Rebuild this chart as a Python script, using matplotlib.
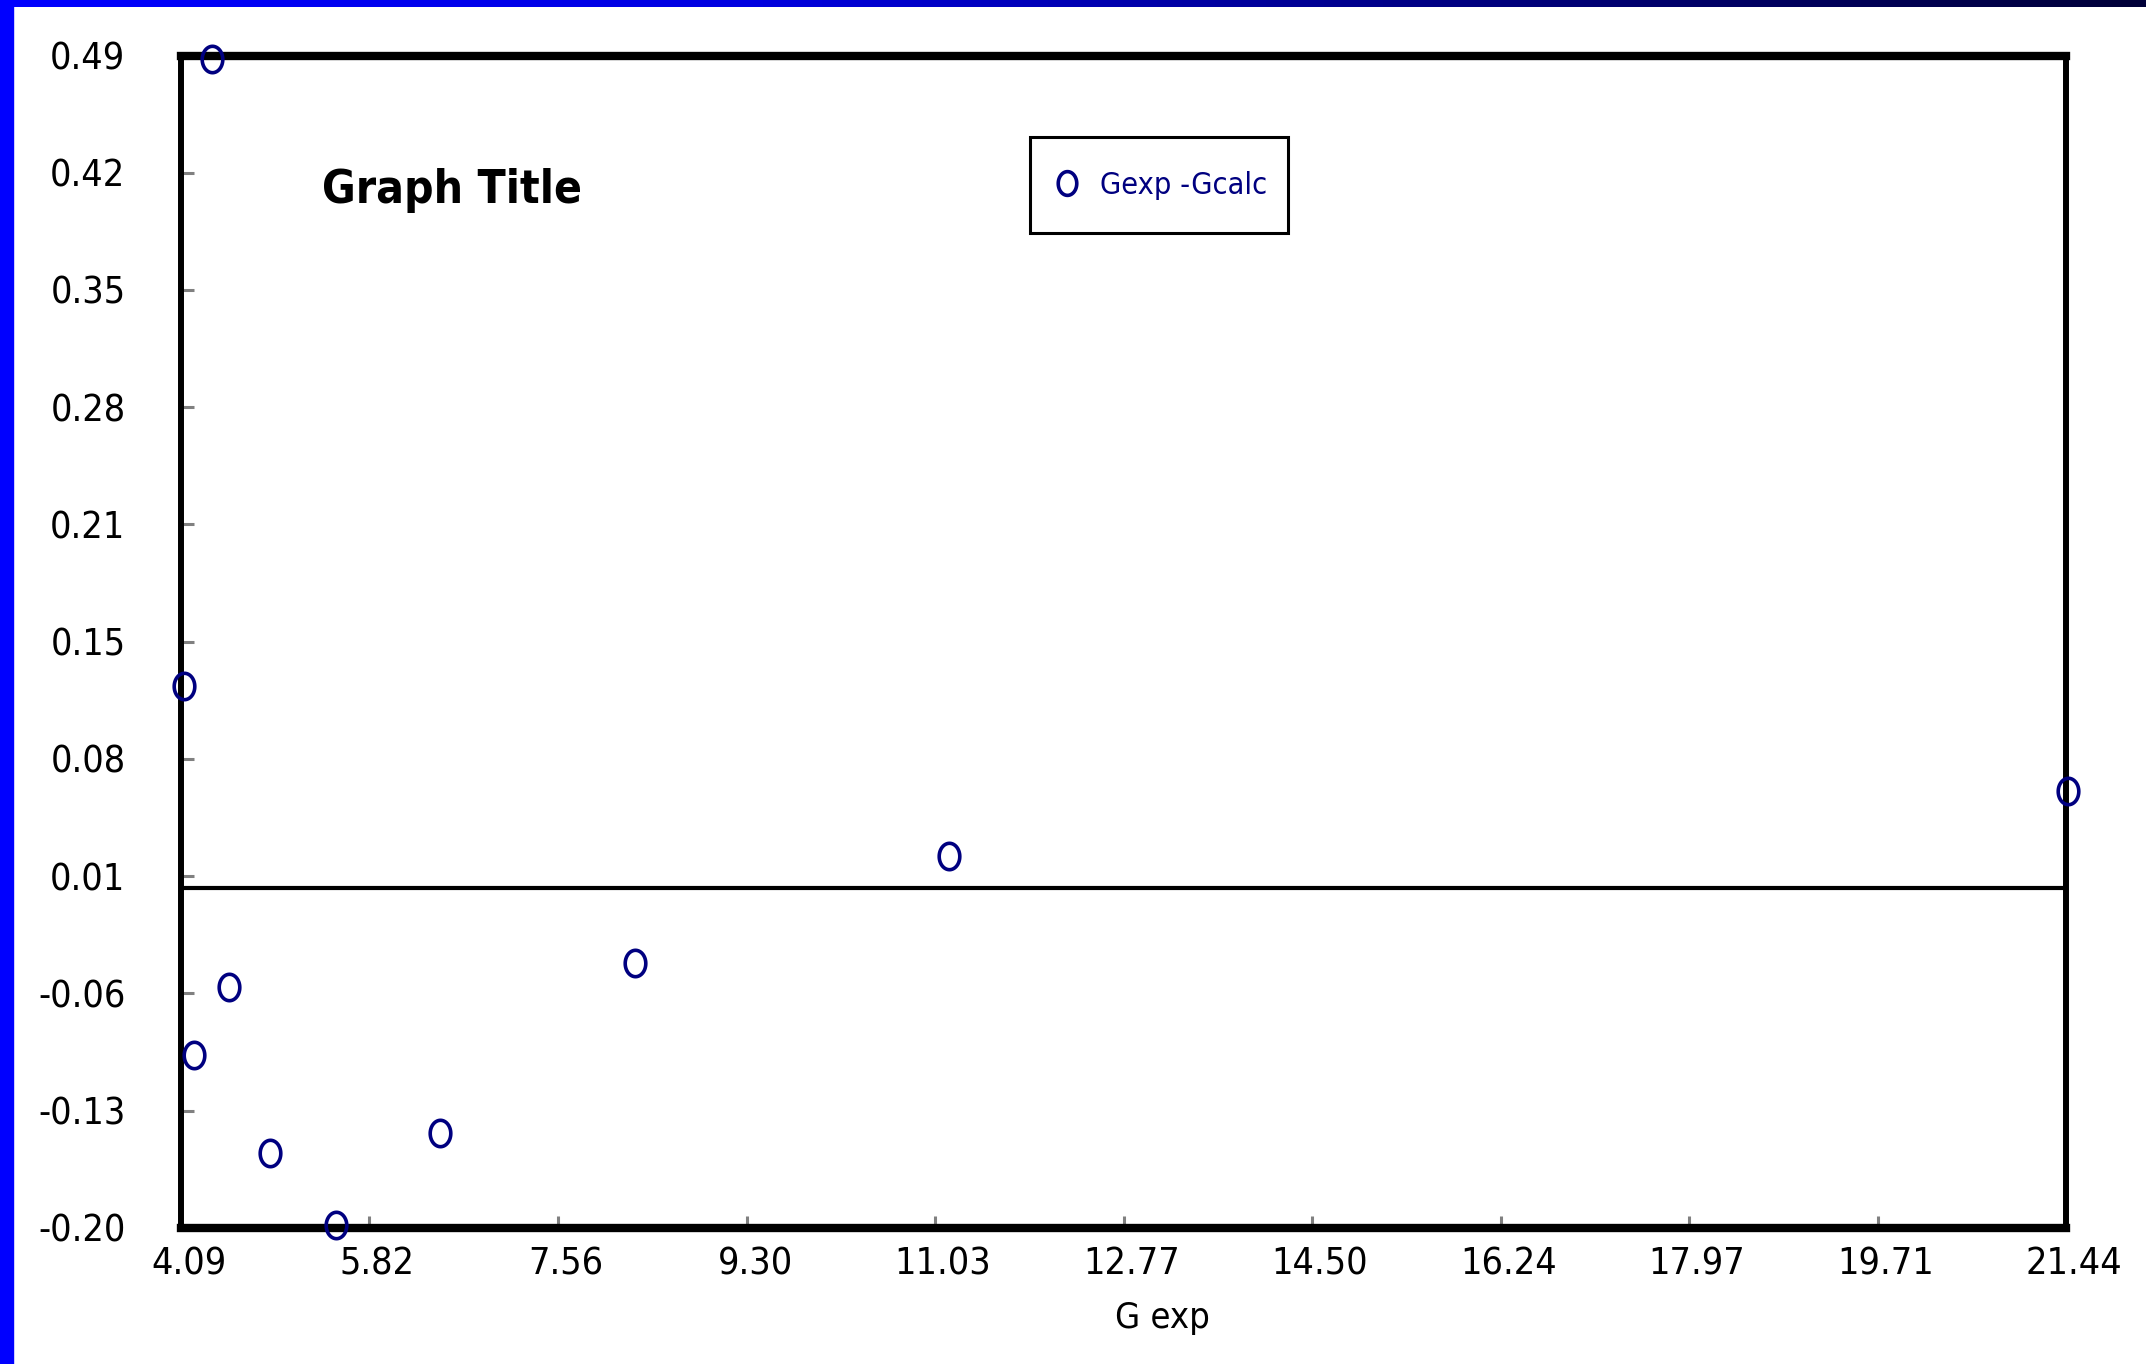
import numpy as np
import matplotlib
matplotlib.use("Agg")
import matplotlib.pyplot as plt
from matplotlib import font_manager
from matplotlib.path import Path
from matplotlib.patches import Rectangle
from matplotlib.colors import LinearSegmentedColormap
from matplotlib.transforms import ScaledTranslation

# residuals Gexp - Gcalc against Gexp
g_exp = [4.375, 4.12, 4.21, 4.53, 4.91, 5.52, 6.47, 8.27, 11.16, 21.46]
residual = [0.488, 0.119, -0.098, -0.058, -0.156, -0.198, -0.144, -0.044, 0.019, 0.057]

x_ticks = [4.09, 5.82, 7.56, 9.30, 11.03, 12.77, 14.50, 16.24, 17.97, 19.71, 21.44]
x_tick_labels = ["4.09", "5.82", "7.56", "9.30", "11.03", "12.77", "14.50", "16.24", "17.97", "19.71", "21.44"]
y_ticks = [-0.20, -0.131, -0.062, 0.007, 0.076, 0.145, 0.214, 0.283, 0.352, 0.421, 0.49]
y_tick_labels = ["-0.20", "-0.13", "-0.06", "0.01", "0.08", "0.15", "0.21", "0.28", "0.35", "0.42", "0.49"]

navy = "#000080"
W, H = 2146, 1364

# the original uses a narrow screen font, so look for a condensed face
fonts = font_manager.fontManager.ttflist
names = {f.name for f in fonts}
narrow = False
if "Liberation Sans Narrow" in names:
    plt.rcParams['font.family'] = ['Liberation Sans Narrow', 'DejaVu Sans']
    narrow = True
else:
    cond = [f.name for f in fonts if f.stretch in ("condensed", "semi-condensed", "extra-condensed")]
    if cond:
        fam = "DejaVu Sans" if "DejaVu Sans" in cond else cond[0]
        plt.rcParams['font.family'] = [fam, 'DejaVu Sans']
        plt.rcParams['font.stretch'] = "condensed"
        narrow = True
    else:
        plt.rcParams['font.family'] = ['DejaVu Sans']

size = 27 if narrow else 22

fig = plt.figure(figsize=(W / 100, H / 100), dpi=100)
fig.patch.set_facecolor("white")

# blue slide frame: left strip and top gradient
fig.patches.append(Rectangle((0, 0), 13 / W, 1, transform=fig.transFigure, color="#0000FF", zorder=0))
top = fig.add_axes([0, 1 - 7 / H, 1, 7 / H])
cmap = LinearSegmentedColormap.from_list("frame", [(0, "#0000FF"), (0.35, "#0000E0"), (0.65, "#000088"), (1, "#000038")])
top.imshow(np.linspace(0, 1, 256)[None, :], cmap=cmap, aspect="auto")
top.axis("off")

ax = fig.add_axes([181 / W, 1 - 1228 / H, (2066 - 181) / W, (1228 - 55.5) / H])

# tall oval marker like the original "0" shapes
theta = np.linspace(0, 2 * np.pi, 60)
oval = Path(np.column_stack([0.78 * np.cos(theta), np.sin(theta)]), closed=True)

ax.plot(g_exp, residual, linestyle="none", marker=oval, markersize=19, markerfacecolor="none",
        markeredgecolor=navy, markeredgewidth=2.6, clip_on=False, zorder=5, label="Gexp -Gcalc")
ax.axhline(0, color="black", linewidth=3, zorder=3)

ax.set_xlim(4.09, 21.44)
ax.set_ylim(-0.20, 0.49)
ax.set_xticks(x_ticks)
ax.set_xticklabels(x_tick_labels)
ax.set_yticks(y_ticks)
ax.set_yticklabels(y_tick_labels)
ax.tick_params(axis="both", direction="in", color="#808080", length=9, width=2.2, labelsize=size)
ax.tick_params(axis="x", pad=13)
ax.tick_params(axis="y", pad=40)
for lab in ax.get_xticklabels():
    lab.set_transform(lab.get_transform() + ScaledTranslation(0.08, 0, fig.dpi_scale_trans))

for side in ["top", "bottom"]:
    ax.spines[side].set_linewidth(6)
for side in ["left", "right"]:
    ax.spines[side].set_linewidth(4.3)

fig.text(1162 / W, 1 - 1328 / H, "G exp", ha="center", va="baseline", fontsize=size - 1)
fig.text(322 / W, 1 - 203 / H, "Graph Title", ha="left", va="baseline", fontsize=33, fontweight="bold")

leg_size = size - 5
leg = ax.legend(loc="upper left", bbox_to_anchor=(1030 / W, 1 - 235 / H, 258 / W, 98 / H),
                bbox_transform=fig.transFigure, mode="expand", borderaxespad=0, fancybox=False,
                framealpha=1, fontsize=leg_size, labelcolor=navy, handlelength=0.2, handletextpad=1.0,
                borderpad=1.1, markerscale=0.9)
leg.get_frame().set_edgecolor("black")
leg.get_frame().set_linewidth(2.2)

fig.savefig("out.png", dpi=100, facecolor="white")
